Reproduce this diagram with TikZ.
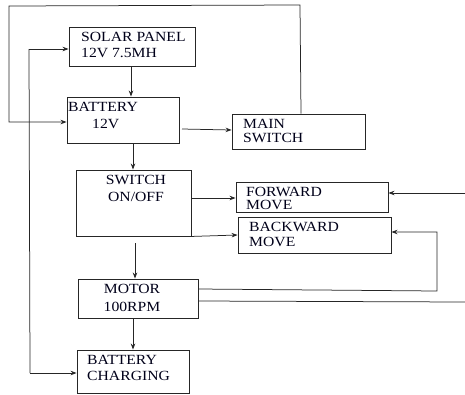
\documentclass[tikz,border=0pt]{standalone}
\usepackage{fontspec}
\setmainfont{Liberation Serif}[FakeStretch=1.12]
\usetikzlibrary{arrows.meta}
\begin{document}
\begin{tikzpicture}[x=1pt,y=-1pt,
  box/.style={draw=black!85, line width=0.9pt, rectangle, inner sep=0pt},
  txt/.style={inner sep=0pt, font=\fontsize{14}{16}\selectfont, text=black!90!blue},
  ln/.style={draw=black!85, line width=0.75pt},
  arr/.style={ln, -{Stealth[length=6pt,width=4.5pt]}}]
\useasboundingbox (0,0) rectangle (465,394);
% boxes
\node[box, minimum width=126, minimum height=39] (solar) at (132,46.5) {};
\node[box, minimum width=112, minimum height=46] (bat) at (123,120) {};
\node[box, minimum width=133, minimum height=35] (main) at (298.5,131.5) {};
\node[box, minimum width=115, minimum height=66] (sw) at (133.5,203) {};
\node[box, minimum width=152, minimum height=30] (fwd) at (312,197) {};
\node[box, minimum width=153, minimum height=36] (bwd) at (314.5,235) {};
\node[box, minimum width=120, minimum height=39] (mot) at (138,298.5) {};
\node[box, minimum width=112, minimum height=43] (chg) at (133,371.5) {};
% texts
\node[txt, anchor=base west] (t1) at (81,41.5) {SOLAR PANEL};
\node[txt, anchor=base west] (t2) at (81,57.5) {12V 7.5MH};
\node[txt, anchor=base west] (t3) at (68,111.5) {BATTERY};
\node[txt, anchor=base west] (t4) at (92,128.5) {12V};
\node[txt, anchor=base west] (t5) at (243,128.5) {MAIN};
\node[txt, anchor=base west] (t6) at (243,142.5) {SWITCH};
\node[txt, anchor=base] (t7) at (136,184.5) {SWITCH};
\node[txt, anchor=base] (t8) at (136,201.5) {ON/OFF};
\node[txt, anchor=base west] (t9) at (246,196.5) {FORWARD};
\node[txt, anchor=base west] (t10) at (246,209.5) {MOVE};
\node[txt, anchor=base west] (t11) at (249,231) {BACKWARD};
\node[txt, anchor=base west] (t12) at (249,246) {MOVE};
\node[txt, anchor=base] (t13) at (132,293.5) {MOTOR};
\node[txt, anchor=base] (t14) at (132,311) {100RPM};
\node[txt, anchor=base west] (t15) at (87,364) {BATTERY};
\node[txt, anchor=base west] (t16) at (87,380) {CHARGING};
% helper coordinates
\coordinate (tr) at (300,5);
\coordinate (tl) at (9,6);
\coordinate (lb) at (9,122);
\coordinate (la) at (29,49);
\coordinate (lz) at (30,373);
\coordinate (rf) at (465,193);
\coordinate (rb) at (437,232);
\coordinate (rc) at (437,291);
\coordinate (re) at (465,302);
% connectors
\draw[arr] (solar.south -| 131,0) -- (bat.north -| 131,0);
\draw[arr] (main.north -| 301,0) -- (tr) -- (tl) -- (lb) -- (bat.west |- lb);
\draw[arr] (182,129) -- (main.west |- 0,130);
\draw[arr] (bat.south -| 133,0) -- (sw.north -| 133,0);
\draw[arr] (sw.east |- 0,198) -- (fwd.west |- 0,198);
\draw[arr] (sw.south east) -- (bwd.west |- 0,235);
\draw[arr] (rf) -- (fwd.east |- rf);
\draw[arr] (mot.east |- 0,289) -- (rc) -- (rb) -- (bwd.east |- rb);
\draw[ln] (mot.east |- 0,301) -- (re);
\draw[arr] (135,243) -- (mot.north -| 135,0);
\draw[arr] (mot.south -| 133,0) -- (chg.north -| 133,0);
\draw[ln] (la) -- (lz);
\draw[arr] (la) -- (solar.west |- la);
\draw[arr] (lz) -- (chg.west |- lz);
\end{tikzpicture}
\end{document}
